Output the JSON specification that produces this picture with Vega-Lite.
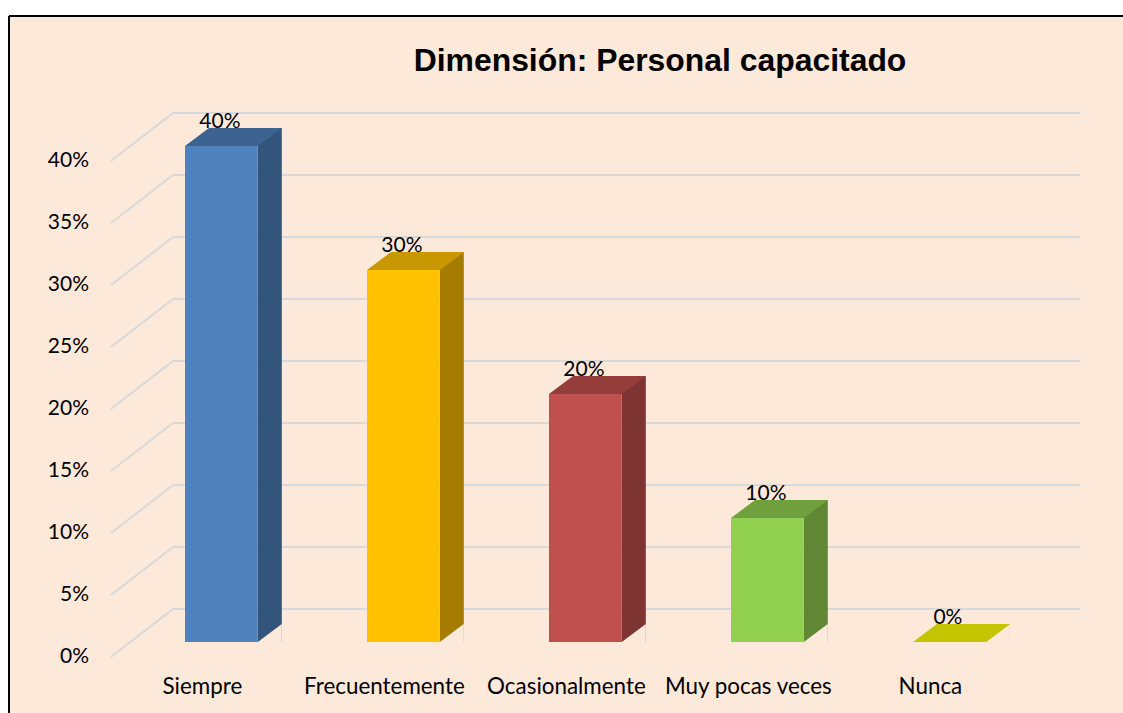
{
  "$schema": "https://vega.github.io/schema/vega-lite/v6.json",
  "autosize": {"type": "none"},
  "width": 1114,
  "height": 697,
  "padding": {"left": 9, "top": 16, "right": 0, "bottom": 0},
  "background": "white",
  "config": {
    "view": {"fill": "#FDE9D9", "stroke": "#000000", "strokeWidth": 2, "strokeDash": [1114, 1811, 697, 0]},
    "font": "Lato"
  },
  "title": {
    "text": "Dimensión: Personal capacitado",
    "font": "Liberation Sans",
    "fontSize": 31.9,
    "fontWeight": "bold",
    "color": "#000000",
    "anchor": "middle",
    "baseline": "alphabetic",
    "offset": 0,
    "dx": 94,
    "dy": 87
  },
  "datasets": {
    "resp": [
      {"respuesta": "Siempre", "porcentaje": 0.40},
      {"respuesta": "Frecuentemente", "porcentaje": 0.30},
      {"respuesta": "Ocasionalmente", "porcentaje": 0.20},
      {"respuesta": "Muy pocas veces", "porcentaje": 0.10},
      {"respuesta": "Nunca", "porcentaje": 0.00}
    ],
    "ticks": [
      {"v": 0}, {"v": 0.05}, {"v": 0.10}, {"v": 0.15}, {"v": 0.20},
      {"v": 0.25}, {"v": 0.30}, {"v": 0.35}, {"v": 0.40}
    ]
  },
  "resolve": {"scale": {"x": "independent"}},
  "layer": [
    {
      "data": {"name": "ticks"},
      "layer": [
        {
          "mark": {"type": "rule", "color": "#D9D9D9", "strokeWidth": 2, "xOffset": -62, "y2Offset": -48},
          "encoding": {
            "x": {"datum": 0, "type": "quantitative", "scale": {"domain": [0, 1], "range": [164, 1071]}, "axis": null},
            "x2": {"datum": 0},
            "y": {"field": "v", "type": "quantitative", "scale": {"domain": [0, 0.4], "range": [641, 145], "nice": false, "zero": false}, "axis": null},
            "y2": {"field": "v"}
          }
        },
        {
          "mark": {"type": "rule", "color": "#D9D9D9", "strokeWidth": 2, "yOffset": -48},
          "encoding": {
            "x": {"datum": 0, "type": "quantitative", "axis": null},
            "x2": {"datum": 1},
            "y": {"field": "v", "type": "quantitative", "axis": null}
          }
        },
        {
          "mark": {"type": "text", "font": "Lato", "fontSize": 21, "color": "#000000", "align": "right", "baseline": "middle", "xOffset": -84},
          "encoding": {
            "x": {"datum": 0, "type": "quantitative", "axis": null},
            "y": {"field": "v", "type": "quantitative", "axis": null},
            "text": {"field": "v", "type": "quantitative", "format": ".0%"}
          }
        }
      ]
    },
    {
      "data": {"name": "resp"},
      "layer": [
        {
          "mark": {"type": "rule", "strokeWidth": 24, "strokeCap": "butt", "xOffset": 12, "yOffset": -33, "y2Offset": -15},
          "encoding": {
            "x": {"field": "respuesta", "type": "nominal", "bandPosition": 1, "sort": null,
                  "scale": {"domain": ["Siempre", "Frecuentemente", "Ocasionalmente", "Muy pocas veces", "Nunca"], "range": [121.4, 1031.4], "paddingInner": 0.6, "paddingOuter": 0.3},
                  "axis": null},
            "y": {"field": "porcentaje", "type": "quantitative", "axis": null},
            "y2": {"datum": 0},
            "stroke": {"field": "respuesta", "type": "nominal", "legend": null,
                       "scale": {"domain": ["Siempre", "Frecuentemente", "Ocasionalmente", "Muy pocas veces", "Nunca"], "range": ["#33547B", "#A67C00", "#7D3432", "#5F8734", "#C4C400"]}}
          }
        },
        {
          "mark": {"type": "point", "shape": "M0,0 L24,-18 L24,0 Z", "size": 4, "filled": true, "opacity": 1, "strokeWidth": 0, "fill": "#FDE9D9", "yOffset": -15},
          "encoding": {
            "x": {"field": "respuesta", "type": "nominal", "bandPosition": 1, "sort": null, "axis": null},
            "y": {"datum": 0, "type": "quantitative", "axis": null}
          }
        },
        {
          "mark": {"type": "bar", "yOffset": -15, "y2Offset": -15},
          "encoding": {
            "x": {"field": "respuesta", "type": "nominal", "sort": null, "axis": null},
            "y": {"field": "porcentaje", "type": "quantitative", "axis": null},
            "y2": {"datum": 0},
            "color": {"field": "respuesta", "type": "nominal", "legend": null,
                      "scale": {"domain": ["Siempre", "Frecuentemente", "Ocasionalmente", "Muy pocas veces", "Nunca"], "range": ["#4F81BD", "#FFC000", "#C0504D", "#92D050", "#C4C400"]}}
          }
        },
        {
          "mark": {"type": "point", "shape": "M0,0 L73,0 L97,-18 L24,-18 Z", "size": 4, "filled": true, "opacity": 1, "strokeWidth": 0, "yOffset": -15},
          "encoding": {
            "x": {"field": "respuesta", "type": "nominal", "bandPosition": 0, "sort": null, "axis": null},
            "y": {"field": "porcentaje", "type": "quantitative", "axis": null},
            "fill": {"field": "respuesta", "type": "nominal", "legend": null,
                     "scale": {"domain": ["Siempre", "Frecuentemente", "Ocasionalmente", "Muy pocas veces", "Nunca"], "range": ["#3D6391", "#C99700", "#943D3B", "#70A03D", "#C4C400"]}}
          }
        },
        {
          "mark": {"type": "text", "font": "Lato", "fontSize": 21, "color": "#000000", "align": "center", "baseline": "alphabetic", "yOffset": -33, "xOffset": -1.5},
          "encoding": {
            "x": {"field": "respuesta", "type": "nominal", "sort": null, "axis": null},
            "y": {"field": "porcentaje", "type": "quantitative", "axis": null},
            "text": {"field": "porcentaje", "type": "quantitative", "format": ".0%"}
          }
        },
        {
          "mark": {"type": "text", "font": "Lato", "fontSize": 22.4, "color": "#000000", "align": "center", "baseline": "alphabetic", "yOffset": 37, "xOffset": -19},
          "encoding": {
            "x": {"field": "respuesta", "type": "nominal", "sort": null, "axis": null},
            "y": {"datum": 0, "type": "quantitative", "axis": null},
            "text": {"field": "respuesta", "type": "nominal"}
          }
        }
      ]
    }
  ]
}
